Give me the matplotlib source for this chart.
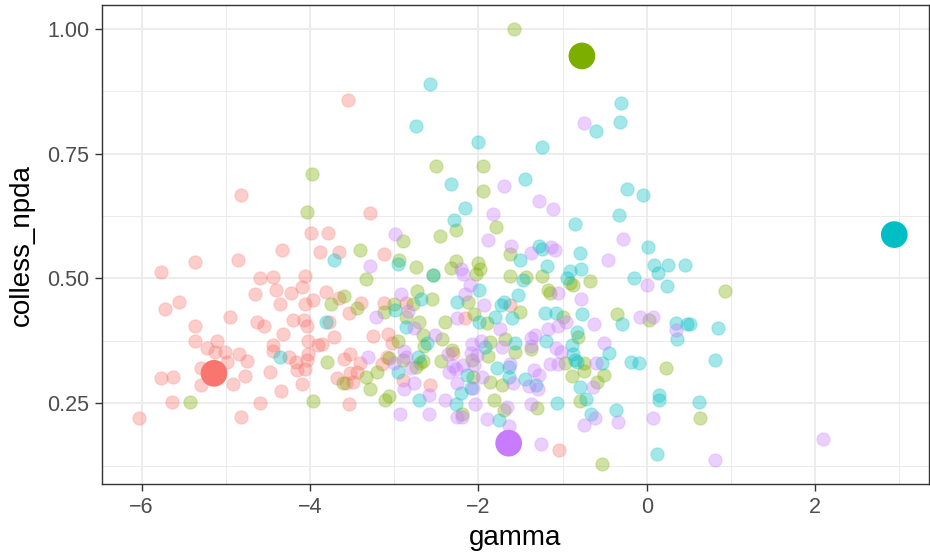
import numpy as np
import matplotlib.pyplot as plt
from matplotlib.ticker import MultipleLocator
from matplotlib.colors import to_rgba

plt.rcParams['font.family'] = ['Liberation Sans', 'DejaVu Sans']

# small points, one pair of arrays per group (gamma, colless_npda)
red_x = [-4.82, -3.99, -4.33, -3.88, -5.36, -4.85, -5.77, -4.59, -4.44, -4.06, -4.10, -4.40, -4.65,
         -4.23, -3.97, -4.36, -4.06, -5.56, -5.72, -4.95, -5.36, -4.63, -4.55, -4.20, -4.07, -4.03,
         -4.32, -5.36, -5.10, -5.22, -5.13, -5.01, -4.84, -4.98, -4.75, -4.44, -4.44, -4.25, -4.17,
         -4.16, -4.06, -4.03, -4.02, -4.02, -3.90, -5.29, -5.77, -5.63, -5.29, -4.92, -4.77, -4.48,
         -4.09, -4.34, -5.64, -4.59, -6.03, -4.82, -3.55, -3.29, -3.78, -3.66, -3.12, -3.81, -3.65,
         -3.39, -3.54, -3.12, -2.86, -2.16, -3.77, -3.72, -3.86, -3.59, -3.52, -3.40, -3.68, -3.53,
         -3.49, -3.44, -3.57, -3.54, -3.15, -3.08, -3.25, -3.07, -3.03, -2.90, -2.57, -2.30, -1.63,
         -1.04]
red_y = [0.668, 0.592, 0.558, 0.553, 0.533, 0.537, 0.514, 0.501, 0.502, 0.505, 0.482, 0.476, 0.469,
         0.470, 0.457, 0.449, 0.448, 0.453, 0.439, 0.423, 0.404, 0.412, 0.404, 0.416, 0.416, 0.405,
         0.388, 0.374, 0.374, 0.360, 0.352, 0.352, 0.349, 0.332, 0.334, 0.366, 0.355, 0.343, 0.332,
         0.316, 0.318, 0.336, 0.348, 0.375, 0.366, 0.321, 0.300, 0.302, 0.286, 0.289, 0.304, 0.312,
         0.289, 0.274, 0.253, 0.251, 0.220, 0.222, 0.858, 0.632, 0.592, 0.553, 0.550, 0.473, 0.461,
         0.451, 0.431, 0.450, 0.451, 0.420, 0.413, 0.382, 0.368, 0.339, 0.349, 0.330, 0.300, 0.311,
         0.292, 0.313, 0.291, 0.249, 0.328, 0.343, 0.384, 0.388, 0.370, 0.296, 0.286, 0.350, 0.447,
         0.156]

green_x = [-3.98, -4.03, -5.42, -3.96, -2.50, -1.95, -1.95, -2.26, -1.79, -2.90, -2.45, -3.40, -2.94,
           -2.74, -2.54, -2.27, -2.33, -2.01, -1.98, -2.03, -3.33, -3.60, -3.75, -3.44, -3.00, -3.12,
           -2.73, -2.55, -2.78, -2.86, -2.70, -2.40, -2.05, -1.90, -2.12, -3.80, -3.61, -3.34, -3.29,
           -3.20, -3.06, -2.95, -2.90, -3.11, -3.06, -2.69, -2.74, -2.66, -2.66, -2.65, -2.43, -2.44,
           -2.31, -2.19, -2.08, -2.06, -1.88, -1.86, -1.86, -1.82, -1.62, -0.91, -0.88, -0.67, -1.62,
           -1.44, -1.24, -1.17, -1.15, -1.51, -0.99, -0.35, 0.03, -0.82, -1.68, -1.57, -1.38, -0.97,
           -0.75, -0.75, 0.23, -1.72, -0.89, -0.51, -0.59, -0.79, -1.30, -1.70, -0.53, 0.93, 0.63,
           -1.58]
green_y = [0.709, 0.633, 0.253, 0.255, 0.725, 0.725, 0.675, 0.597, 0.604, 0.576, 0.586, 0.557, 0.537,
           0.523, 0.507, 0.535, 0.522, 0.531, 0.520, 0.510, 0.498, 0.465, 0.449, 0.441, 0.449, 0.432,
           0.475, 0.458, 0.449, 0.423, 0.412, 0.413, 0.428, 0.411, 0.453, 0.333, 0.290, 0.302, 0.278,
           0.312, 0.340, 0.375, 0.336, 0.257, 0.264, 0.331, 0.323, 0.335, 0.386, 0.364, 0.378, 0.335,
           0.356, 0.229, 0.336, 0.303, 0.344, 0.373, 0.292, 0.257, 0.549, 0.491, 0.487, 0.495, 0.506,
           0.503, 0.505, 0.477, 0.471, 0.433, 0.423, 0.429, 0.416, 0.382, 0.378, 0.353, 0.358, 0.330,
           0.331, 0.315, 0.320, 0.286, 0.304, 0.306, 0.293, 0.254, 0.241, 0.236, 0.128, 0.475, 0.221,
           1.000]

cyan_x = [-4.36, -2.33, -2.16, -2.29, -3.71, -2.96, -2.54, -2.99, -2.68, -2.86, -1.99, -1.80, -1.99,
          -2.25, -3.81, -2.95, -2.72, -2.61, -2.71, -2.21, -2.27, -2.14, -2.09, -1.92, -1.78, -1.45,
          -0.23, -0.05, -0.33, -0.85, 0.02, -1.28, -1.25, -1.51, -0.79, -1.19, -0.91, -0.78, -0.95,
          0.09, 0.13, 0.25, 0.46, -0.15, 0.24, -1.47, -1.53, -1.70, -1.73, -1.60, -1.21, -1.08, -0.77,
          -0.29, 0.35, 0.48, -0.83, -1.20, -1.56, -0.89, -0.45, -0.87, -0.85, -0.83, -0.53, -0.19,
          -0.09, -1.64, -1.64, -1.45, -1.31, -0.79, -0.72, -1.07, -1.76, -0.66, -0.37, 0.14, 0.14,
          0.12, 0.36, 0.51, 0.85, 0.81, 0.62, -2.57, -0.31, -0.32, -0.60, -2.74, -2.00, -1.24]
cyan_y = [0.342, 0.689, 0.642, 0.617, 0.538, 0.530, 0.507, 0.437, 0.459, 0.403, 0.413, 0.423, 0.477,
          0.453, 0.413, 0.313, 0.342, 0.371, 0.256, 0.271, 0.249, 0.306, 0.280, 0.363, 0.321, 0.699,
          0.679, 0.667, 0.628, 0.610, 0.563, 0.565, 0.560, 0.538, 0.551, 0.525, 0.515, 0.520, 0.500,
          0.527, 0.511, 0.527, 0.527, 0.500, 0.484, 0.497, 0.467, 0.453, 0.447, 0.420, 0.431, 0.431,
          0.428, 0.408, 0.410, 0.408, 0.393, 0.375, 0.371, 0.366, 0.351, 0.348, 0.336, 0.333, 0.331,
          0.333, 0.330, 0.322, 0.302, 0.298, 0.286, 0.282, 0.259, 0.251, 0.217, 0.229, 0.236, 0.266,
          0.256, 0.148, 0.378, 0.408, 0.400, 0.336, 0.253, 0.890, 0.851, 0.814, 0.795, 0.806, 0.773,
          0.764]

purple_x = [-1.83, -2.99, -1.89, -3.29, -2.21, -2.18, -2.92, -3.22, -2.83, -2.77, -2.25, -2.10, -2.16,
            -1.93, -3.31, -3.00, -2.88, -2.86, -2.88, -2.76, -2.80, -2.51, -2.59, -2.93, -2.59, -2.40,
            -2.36, -2.35, -2.30, -2.26, -2.25, -2.25, -2.19, -2.18, -2.09, -2.05, -2.02, -2.06, -1.96,
            -2.04, -1.90, -2.08, -1.97, -1.70, -1.28, -1.11, -0.28, -0.46, -1.61, -1.37, -1.14, -1.09,
            0.00, -1.06, -0.78, -0.96, -0.63, -0.08, 0.07, -1.17, -1.05, -1.37, -1.33, -1.74, -1.38,
            -1.72, -1.08, -1.02, -0.51, -1.15, -1.05, -0.60, -1.63, -1.59, -1.34, -1.28, -1.40, -1.29,
            -0.64, -1.38, -1.66, -1.64, -1.26, -0.62, -0.74, -0.34, 0.08, 0.35, 2.09, 0.81, -0.75]
purple_y = [0.629, 0.590, 0.577, 0.525, 0.520, 0.510, 0.468, 0.423, 0.435, 0.400, 0.420, 0.487, 0.469,
            0.447, 0.342, 0.330, 0.354, 0.343, 0.278, 0.290, 0.320, 0.386, 0.266, 0.228, 0.229, 0.257,
            0.348, 0.313, 0.324, 0.318, 0.290, 0.223, 0.223, 0.326, 0.350, 0.326, 0.346, 0.280, 0.303,
            0.248, 0.218, 0.368, 0.375, 0.685, 0.656, 0.640, 0.580, 0.538, 0.565, 0.551, 0.563, 0.557,
            0.487, 0.471, 0.458, 0.413, 0.408, 0.423, 0.423, 0.398, 0.404, 0.380, 0.386, 0.398, 0.364,
            0.362, 0.360, 0.353, 0.371, 0.328, 0.328, 0.330, 0.328, 0.290, 0.316, 0.306, 0.284, 0.278,
            0.283, 0.249, 0.243, 0.204, 0.169, 0.220, 0.206, 0.213, 0.221, 0.396, 0.179, 0.136, 0.811]

# one highlighted point per group
big_x = [-5.14, -0.77, 2.94, -1.64]
big_y = [0.310, 0.946, 0.588, 0.170]

colors = ['#F8766D', '#7CAE00', '#00BFC4', '#C77CFF']

fig = plt.figure(figsize=(9.3, 5.59), dpi=100)
ax = fig.add_axes([0.1097, 0.134, 0.889, 0.857])

groups = [(red_x, red_y), (green_x, green_y), (cyan_x, cyan_y), (purple_x, purple_y)]
for (gx, gy), c in zip(groups, colors):
    ax.scatter(gx, gy, s=92, facecolors=[to_rgba(c, 0.36)], edgecolors=[to_rgba(c, 0.22)],
               linewidths=0.9, zorder=3)

ax.scatter(big_x, big_y, s=370, c=colors, edgecolors='none', zorder=4)

ax.set_xlim(-6.47, 3.35)
ax.set_ylim(0.088, 1.048)
ax.xaxis.set_minor_locator(MultipleLocator(1))
ax.yaxis.set_minor_locator(MultipleLocator(0.125))
ax.set_yticks([0.25, 0.5, 0.75, 1.0])
ax.set_yticklabels(['0.25', '0.50', '0.75', '1.00'])
ax.set_xticks([-6, -4, -2, 0, 2])
ax.set_xticklabels(['\u22126', '\u22124', '\u22122', '0', '2'])

ax.grid(which='major', color='#EBEBEB', linewidth=1.3, zorder=0)
ax.grid(which='minor', color='#EBEBEB', linewidth=0.7, zorder=0)
ax.set_axisbelow(True)

for sp in ax.spines.values():
    sp.set_color('#333333')
    sp.set_linewidth(1.0)

ax.tick_params(which='major', length=5, width=1.0, color='#333333',
               labelsize=15.5, labelcolor='#4D4D4D', pad=4)
ax.tick_params(which='minor', length=0)

ax.set_xlabel('gamma', fontsize=20, labelpad=5)
ax.set_ylabel('colless_npda', fontsize=20, labelpad=9)

fig.savefig('out.png', dpi=100)
